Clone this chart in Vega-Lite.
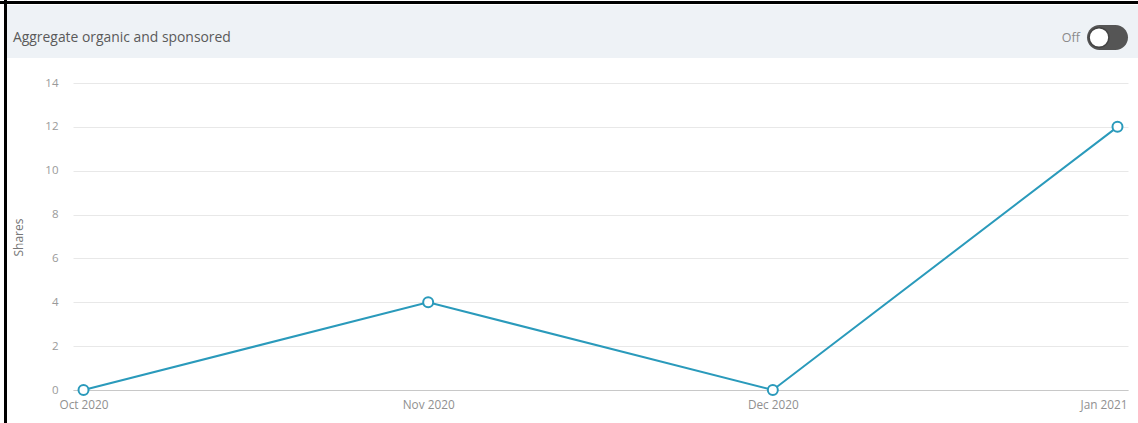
{
  "$schema": "https://vega.github.io/schema/vega-lite/v6.json",
  "width": 1131,
  "height": 418,
  "padding": {"left": 7, "top": 5, "right": 0, "bottom": 0},
  "autosize": {"type": "none"},
  "background": "#ffffff",
  "config": {
    "view": {"stroke": null},
    "font": "Open Sans"
  },
  "data": {
    "values": [
      {"month": "Oct 2020", "shares": 0},
      {"month": "Nov 2020", "shares": 4},
      {"month": "Dec 2020", "shares": 0},
      {"month": "Jan 2021", "shares": 12}
    ]
  },
  "layer": [
    {
      "data": {"values": [{}]},
      "mark": {"type": "rect", "fill": "#eef2f6"},
      "encoding": {
        "x": {"value": 0}, "x2": {"value": 1131},
        "y": {"value": 0}, "y2": {"value": 53}
      }
    },
    {
      "data": {"values": [{}]},
      "mark": {"type": "rule", "stroke": "#000000", "strokeWidth": 3},
      "encoding": {
        "x": {"value": -1.5}, "y": {"value": -5}, "y2": {"value": 418}
      }
    },
    {
      "data": {"values": [{}]},
      "mark": {"type": "rule", "stroke": "#000000", "strokeWidth": 3},
      "encoding": {
        "y": {"value": -2.5}, "x": {"value": -7}, "x2": {"value": 1131}
      }
    },
    {
      "data": {"values": [{}]},
      "mark": {"type": "text", "align": "left", "baseline": "middle", "fontSize": 13.9, "fill": "#5a5a5a"},
      "encoding": {
        "x": {"value": 6}, "y": {"value": 33},
        "text": {"value": "Aggregate organic and sponsored"}
      }
    },
    {
      "data": {"values": [{}]},
      "mark": {"type": "text", "align": "right", "baseline": "middle", "fontSize": 12.5, "fill": "#8a8a8a"},
      "encoding": {
        "x": {"value": 1073}, "y": {"value": 33},
        "text": {"value": "Off"}
      }
    },
    {
      "data": {"values": [{}]},
      "mark": {"type": "rect", "fill": "#555555", "cornerRadius": 12.5},
      "encoding": {
        "x": {"value": 1080}, "x2": {"value": 1121},
        "y": {"value": 20}, "y2": {"value": 45}
      }
    },
    {
      "data": {"values": [{}]},
      "mark": {"type": "point", "shape": "circle", "filled": true, "fill": "#ffffff", "stroke": "#444444", "strokeWidth": 1.5, "size": 390, "opacity": 1},
      "encoding": {
        "x": {"value": 1092}, "y": {"value": 32.5}
      }
    },
    {
      "mark": {"type": "line", "color": "#2a9abb", "strokeWidth": 2},
      "encoding": {
        "x": {
          "field": "month", "type": "ordinal", "sort": null,
          "scale": {"type": "point", "range": [66, 1121], "padding": 0.0305},
          "axis": {
            "orient": "bottom", "offset": -33, "grid": false, "ticks": false,
            "domainColor": "#c8c8c8", "domainWidth": 1,
            "labelColor": "#909090", "labelFontSize": 11.8, "labelPadding": 9,
            "labelAngle": 0, "title": null,
            "labelOffset": {"condition": {"test": "datum.index === 1", "value": -14}, "value": 0}
          }
        },
        "y": {
          "field": "shares", "type": "quantitative",
          "scale": {"domain": [0, 14], "range": [385, 78], "nice": false},
          "axis": {
            "orient": "left", "offset": -66,
            "values": [0, 2, 4, 6, 8, 10, 12, 14],
            "grid": true, "gridColor": "#e8e8e8", "domain": false, "ticks": false,
            "labelPadding": 15, "labelColor": "#9a9a9a", "labelFontSize": 11.5,
            "title": "Shares", "titleX": -55, "titleY": 232,
            "titleFontSize": 12, "titleColor": "#777777", "titleFontWeight": "normal",
            "titleBaseline": "middle", "titleAlign": "center", "titleAngle": -90
          }
        }
      }
    },
    {
      "mark": {"type": "point", "shape": "circle", "filled": true, "fill": "#ffffff", "stroke": "#2a9abb", "strokeWidth": 2, "size": 100, "opacity": 1},
      "encoding": {
        "x": {"field": "month", "type": "ordinal", "sort": null},
        "y": {"field": "shares", "type": "quantitative"}
      }
    }
  ]
}
